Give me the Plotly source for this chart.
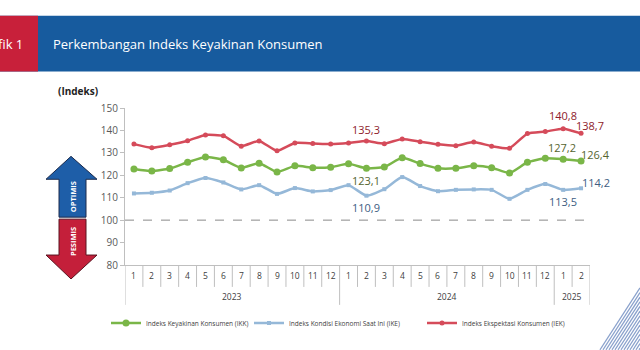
import plotly.graph_objects as go

# ---------------- data ----------------
months = ["1", "2", "3", "4", "5", "6", "7", "8", "9", "10", "11", "12",
          "1", "2", "3", "4", "5", "6", "7", "8", "9", "10", "11", "12",
          "1", "2"]
years = ["2023", "2024", "2025"]
year_counts = [12, 12, 2]

ikk = [122.8, 121.9, 123.0, 125.8, 128.2, 126.9, 123.3, 125.4, 121.5, 124.2, 123.4, 123.6,
       125.1, 123.1, 123.7, 127.8, 125.2, 123.1, 123.1, 124.2, 123.4, 121.0, 125.8, 127.6,
       127.2, 126.4]
ike = [111.9, 112.2, 113.2, 116.5, 118.8, 116.8, 113.7, 115.6, 111.7, 114.3, 112.8, 113.4,
       115.6, 110.9, 113.8, 119.2, 115.2, 112.9, 113.5, 113.7, 113.5, 109.5, 113.5, 116.1,
       113.5, 114.2]
iek = [133.9, 132.3, 133.6, 135.4, 138.0, 137.6, 133.0, 135.3, 130.9, 134.4, 134.2, 133.9,
       134.4, 135.3, 134.1, 136.2, 135.0, 133.8, 133.2, 134.8, 133.0, 132.1, 138.6, 139.5,
       140.8, 138.7]

series_names = ["Indeks Keyakinan Konsumen (IKK)",
                "Indeks Kondisi Ekonomi Saat Ini (IKE)",
                "Indeks Ekspektasi Konsumen (IEK)"]
y_ticks = [80, 90, 100, 110, 120, 130, 140, 150]
threshold = 100

# labelled points: (series, index, xshift, yshift)
labelled = [("iek", 13, 0, 11), ("ikk", 13, 0, -12), ("ike", 13, 0, -12),
            ("iek", 24, 0, 13), ("iek", 25, 9, 8),
            ("ikk", 24, -1, 12), ("ikk", 25, 14, 6),
            ("ike", 25, 15, 6), ("ike", 24, 0, -12)]

# ---------------- styling ----------------
W, H = 640, 350
L, R, T, B = 125, 590, 107.5, 265
FONT = "Open Sans"
col = {"ikk": "#7ab648", "ike": "#95b8d8", "iek": "#d54b5a"}
lab_col = {"ikk": "#55652e", "ike": "#405d82", "iek": "#8e1b2b"}
vals = {"ikk": ikk, "ike": ike, "iek": iek}


def px(x):
    return (x - L) / (R - L)


def py(y):
    return (B - y) / (B - T)


x_idx = list(range(len(months)))
fig = go.Figure()

fig.add_trace(go.Scatter(x=x_idx, y=ikk, name=series_names[0], mode="lines+markers",
                         legend="legend",
                         line=dict(color=col["ikk"], width=2.5, shape="spline", smoothing=0.5),
                         marker=dict(symbol="circle", size=7, color=col["ikk"])))
fig.add_trace(go.Scatter(x=x_idx, y=ike, name=series_names[1], mode="lines+markers",
                         legend="legend2",
                         line=dict(color=col["ike"], width=2.5, shape="spline", smoothing=0.5),
                         marker=dict(symbol="square", size=4, color=col["ike"])))
fig.add_trace(go.Scatter(x=x_idx, y=iek, name=series_names[2], mode="lines+markers",
                         legend="legend3",
                         line=dict(color=col["iek"], width=2.5, shape="spline", smoothing=0.5),
                         marker=dict(symbol="circle", size=5, color=col["iek"])))

shapes = []
annotations = []

# header bar
shapes.append(dict(type="rect", xref="paper", yref="paper", x0=px(0), x1=px(640),
                   y0=py(71), y1=py(15), fillcolor="#175b9e", line_width=0, layer="above"))
shapes.append(dict(type="rect", xref="paper", yref="paper", x0=px(0), x1=px(38),
                   y0=py(71), y1=py(15), fillcolor="#c8203a", line_width=0, layer="above"))
annotations.append(dict(xref="paper", yref="paper", x=px(25), y=py(43), xanchor="right",
                        yanchor="middle", text="fik 1", showarrow=False,
                        font=dict(family=FONT, size=13, color="white")))
annotations.append(dict(xref="paper", yref="paper", x=px(51), y=py(43), xanchor="left",
                        yanchor="middle", text="Perkembangan Indeks Keyakinan Konsumen",
                        showarrow=False, font=dict(family=FONT, size=13, color="white")))
annotations.append(dict(xref="paper", yref="paper", x=px(78), y=py(90), xanchor="center",
                        yanchor="middle", text="<b>(Indeks)</b>", showarrow=False,
                        font=dict(family=FONT, size=10, color="#222222")))

# threshold dashed line
shapes.append(dict(type="line", xref="x", yref="y", x0=-0.5, x1=len(months) - 0.5,
                   y0=threshold, y1=threshold, line=dict(color="#8a8a8a", width=1, dash="dash")))


# arrows
def path(points):
    return "M " + " L ".join(f"{px(a)},{py(b)}" for a, b in points) + " Z"


up = [(71, 156), (97, 179), (86, 179), (86, 217), (59, 217), (59, 179), (46, 179)]
down = [(59, 219), (86, 219), (86, 255), (97, 255), (71, 279), (46, 255), (59, 255)]
shapes.append(dict(type="path", xref="paper", yref="paper", path=path(up),
                   fillcolor="#1e5ea8", line=dict(color="#1d2b4c", width=1)))
shapes.append(dict(type="path", xref="paper", yref="paper", path=path(down),
                   fillcolor="#c41f3a", line=dict(color="#5a1420", width=1)))
annotations.append(dict(xref="paper", yref="paper", x=px(73), y=py(197), text="<b>OPTIMIS</b>",
                        textangle=-90, showarrow=False, xanchor="center", yanchor="middle",
                        font=dict(family=FONT, size=7.5, color="white")))
annotations.append(dict(xref="paper", yref="paper", x=px(73), y=py(242), text="<b>PESIMIS</b>",
                        textangle=-90, showarrow=False, xanchor="center", yanchor="middle",
                        font=dict(family=FONT, size=7.5, color="white")))

# category table separators
n = len(months)
boundaries = [0]
for c in year_counts:
    boundaries.append(boundaries[-1] + c)
for i in range(n + 1):
    long = i in boundaries
    shapes.append(dict(type="line", xref="x", yref="paper", x0=i - 0.5, x1=i - 0.5,
                       y0=0, y1=py(305 if long else 287),
                       line=dict(color="#bfbfbf", width=1)))
for i, m in enumerate(months):
    annotations.append(dict(xref="x", yref="paper", x=i, y=py(276), text=m, showarrow=False,
                            xanchor="center", yanchor="middle",
                            font=dict(family=FONT, size=8.5, color="#404040")))
for k, yname in enumerate(years):
    mid = (boundaries[k] + boundaries[k + 1] - 1) / 2
    annotations.append(dict(xref="x", yref="paper", x=mid, y=py(297), text=yname,
                            showarrow=False, xanchor="center", yanchor="middle",
                            font=dict(family=FONT, size=8.5, color="#404040")))

# data labels
for s, i, dx, dy in labelled:
    v = vals[s][i]
    annotations.append(dict(xref="x", yref="y", x=i, y=v, text=f"{v:.1f}".replace(".", ","),
                            xshift=dx, yshift=dy, showarrow=False,
                            xanchor="center", yanchor="middle",
                            font=dict(family=FONT, size=11, color=lab_col[s])))

# decorative hatch bottom-right
for k in range(14):
    x0 = 600 + 3 * k
    if x0 >= 640:
        break
    y1 = 350 - 62 * (640 - x0) / 40
    shapes.append(dict(type="line", xref="paper", yref="paper", x0=px(x0), y0=py(350),
                       x1=px(640), y1=py(y1),
                       line=dict(color="#8aa1cc", width=1.3)))


def legend_at(xpix):
    return dict(orientation="h", xref="container", yref="container",
                x=xpix / W, y=1 - 323 / H, xanchor="left", yanchor="middle",
                font=dict(family=FONT, size=6.5, color="#404040"),
                itemwidth=30, bgcolor="rgba(0,0,0,0)")


fig.update_layout(
    width=W, height=H,
    margin=dict(l=L, r=W - R, t=T, b=H - B),
    paper_bgcolor="white", plot_bgcolor="white",
    shapes=shapes, annotations=annotations,
    showlegend=True,
    legend=legend_at(106),
    legend2=legend_at(249),
    legend3=legend_at(422),
    font=dict(family=FONT),
)
fig.update_xaxes(range=[-0.5, n - 0.5], showticklabels=False, showgrid=False,
                 zeroline=False, showline=True, linecolor="#bfbfbf", ticks="")
fig.update_yaxes(range=[80, 150], tickvals=y_ticks, showgrid=False, zeroline=False,
                 showline=True, linecolor="#bfbfbf", ticks="outside", ticklen=4,
                 tickcolor="#bfbfbf", tickfont=dict(family=FONT, size=10, color="#595959"))

fig.write_html("out.html")
